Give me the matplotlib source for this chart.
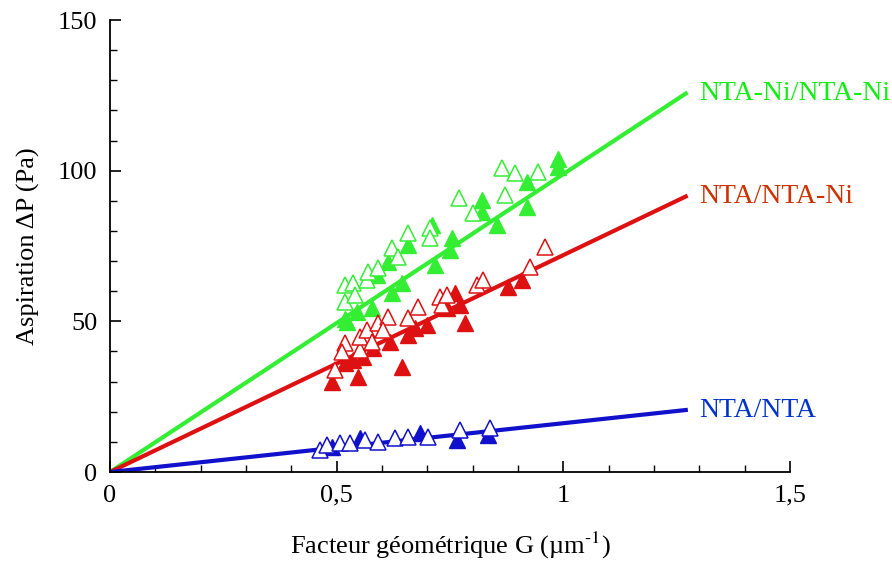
import numpy as np
import matplotlib.pyplot as plt
from matplotlib.ticker import MultipleLocator, FuncFormatter

plt.rcParams['font.family'] = ['Liberation Serif', 'DejaVu Serif']
plt.rcParams['mathtext.fontset'] = 'stix'

# green : NTA-Ni/NTA-Ni
g_fill_x = [0.519, 0.523, 0.545, 0.578, 0.589, 0.614, 0.622, 0.645, 0.658, 0.71, 0.717, 0.75, 0.755, 0.821, 0.821, 0.854, 0.92, 0.92, 0.989, 0.989]
g_fill_y = [50.7, 49.8, 53.0, 54.4, 65.4, 69.7, 59.4, 62.7, 75.3, 82.0, 68.7, 73.7, 77.7, 86.3, 90.3, 82.0, 88.0, 96.3, 101.3, 104.0]
g_open_x = [0.519, 0.537, 0.519, 0.541, 0.567, 0.57, 0.592, 0.622, 0.636, 0.658, 0.706, 0.706, 0.769, 0.801, 0.872, 0.865, 0.894, 0.945]
g_open_y = [62.0, 62.7, 56.4, 58.7, 63.7, 66.4, 67.7, 74.3, 71.4, 79.3, 81.0, 77.7, 90.9, 86.0, 91.9, 100.9, 99.2, 99.6]

# red : NTA/NTA-Ni
r_fill_x = [0.49, 0.548, 0.645, 0.784, 0.519, 0.537, 0.558, 0.581, 0.618, 0.658, 0.673, 0.7, 0.744, 0.762, 0.773, 0.879, 0.909]
r_fill_y = [29.9, 31.5, 34.8, 49.5, 36.2, 37.2, 38.2, 41.2, 43.1, 45.5, 47.8, 48.8, 54.4, 59.4, 55.4, 61.4, 63.7]
r_open_x = [0.497, 0.519, 0.512, 0.552, 0.552, 0.567, 0.592, 0.614, 0.603, 0.658, 0.68, 0.728, 0.733, 0.744, 0.81, 0.823, 0.927, 0.96, 0.578]
r_open_y = [33.9, 42.8, 39.8, 40.5, 44.8, 47.1, 49.5, 51.4, 47.1, 51.1, 54.8, 58.1, 55.4, 58.7, 62.0, 63.7, 68.0, 74.7, 43.1]

# blue : NTA/NTA
b_fill_x = [0.49, 0.552, 0.684, 0.766, 0.834]
b_fill_y = [8.3, 11.3, 12.9, 10.6, 12.3]
b_open_x = [0.464, 0.479, 0.508, 0.53, 0.563, 0.592, 0.629, 0.658, 0.702, 0.773, 0.839]
b_open_y = [7.4, 9.0, 9.6, 9.6, 10.6, 10.0, 11.3, 11.6, 11.6, 13.9, 14.6]

slopes = [98.9, 72.0, 16.2]
labels = ['NTA-Ni/NTA-Ni', 'NTA/NTA-Ni', 'NTA/NTA']
line_cols = ['#33ee33', '#dd1111', '#1111cc']
text_cols = ['#11ee11', '#cc3300', '#0033cc']
x_end = 1.27

fig = plt.figure(figsize=(8.92, 5.61), dpi=100)
ax = fig.add_axes([0.1233, 0.1586, 0.7624, 0.8057])

series = [(g_fill_x, g_fill_y, g_open_x, g_open_y),
          (r_fill_x, r_fill_y, r_open_x, r_open_y),
          (b_fill_x, b_fill_y, b_open_x, b_open_y)]

for k, (fx, fy, ox, oy) in enumerate(series):
    c = line_cols[k]
    xs = np.array([0, x_end])
    ax.plot(xs, slopes[k] * xs, color=c, lw=3, zorder=2)
    ax.plot(fx, fy, '^', color=c, ms=11, mec=c, ls='none', zorder=3)
    ax.plot(ox, oy, '^', mfc='white', mec=c, mew=1.1, ms=11, ls='none', zorder=4)
    ax.text(x_end + 0.03, slopes[k] * x_end, labels[k], color=text_cols[k],
            fontsize=20, va='center', ha='left')

ax.set_xlim(0, 1.5)
ax.set_ylim(0, 150)
ax.xaxis.set_major_locator(MultipleLocator(0.5))
ax.xaxis.set_minor_locator(MultipleLocator(0.1))
ax.yaxis.set_major_locator(MultipleLocator(50))
ax.yaxis.set_minor_locator(MultipleLocator(10))
ax.xaxis.set_major_formatter(FuncFormatter(lambda v, p: ('%g' % v).replace('.', ',')))
ax.tick_params(which='major', direction='in', length=8, width=1.2, labelsize=19, pad=9)
ax.tick_params(which='minor', direction='in', length=5, width=1)
ax.spines['top'].set_visible(False)
ax.spines['right'].set_visible(False)
for s in ['left', 'bottom']:
    ax.spines[s].set_linewidth(1.3)

ax.set_xlabel('Facteur géométrique G (µm$^{\\text{-1}}$)', fontsize=19, labelpad=17)
ax.set_ylabel('Aspiration ΔP (Pa)', fontsize=19, labelpad=13)

fig.savefig('out.png', dpi=100)
